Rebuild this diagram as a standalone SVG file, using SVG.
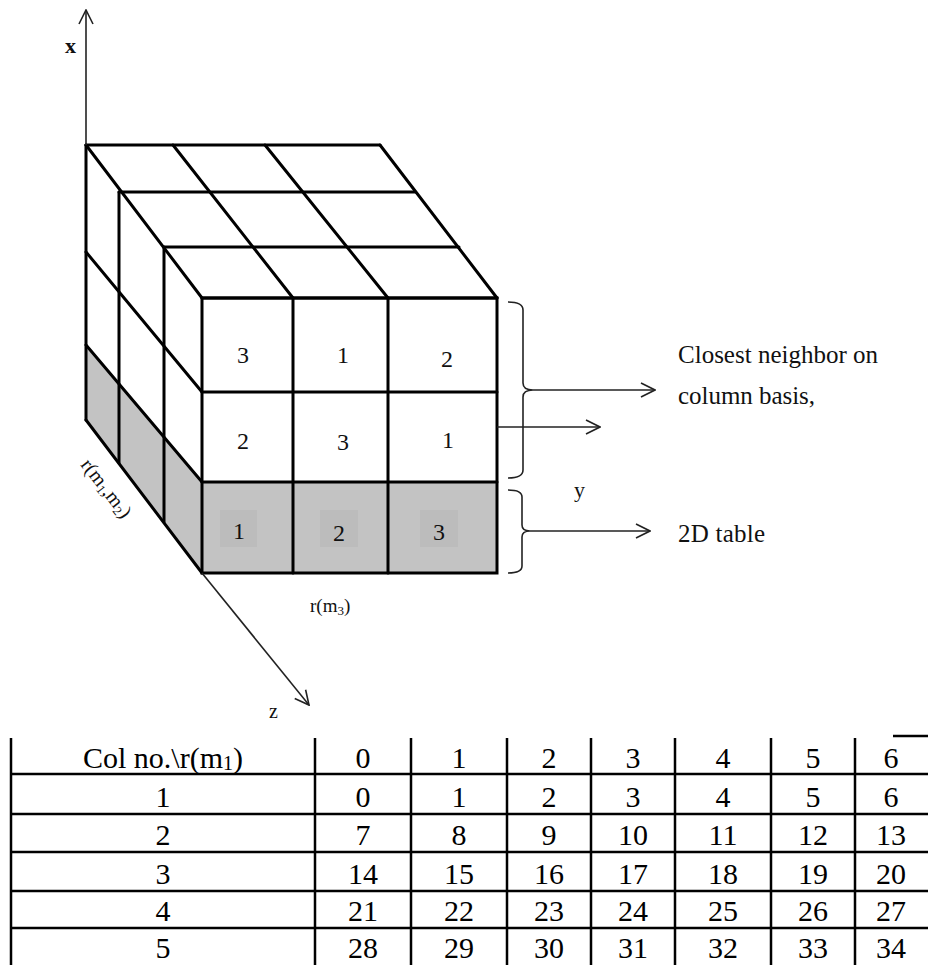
<svg xmlns="http://www.w3.org/2000/svg" width="928" height="965" viewBox="0 0 928 965">
<defs>
<marker id="arr" viewBox="0 0 16 16" markerWidth="16" markerHeight="16" refX="15" refY="8" orient="auto" markerUnits="userSpaceOnUse">
<path d="M1,1 L15,8 L1,15" fill="none" stroke="#222" stroke-width="1.6"/>
</marker>
<style>
.edge{stroke:#000;stroke-width:3;fill:none;stroke-linecap:round}
.thin{stroke:#222;stroke-width:1.6;fill:none}
.con{stroke:#222;stroke-width:1.6;fill:none;marker-end:url(#arr)}
.gray{fill:#c3c3c3}
.dk{fill:#bcbcbc}
.t{font-family:"Liberation Serif","Times New Roman",serif;fill:#111}
.d{font-size:24px;text-anchor:middle}
.lab{font-size:25px}
.tb{font-size:30px;text-anchor:middle;font-family:"Liberation Serif","Times New Roman",serif;fill:#000}
.tl{stroke:#000;stroke-width:2.5;fill:none}
</style>
</defs>
<rect width="928" height="965" fill="#fff"/>

<g id="cube">
<polygon class="gray" points="86,345 202,482 202,573 86,420"/>
<rect class="gray" x="202" y="482" width="295" height="91"/>
<rect class="dk" x="220" y="510" width="37" height="37"/>
<rect class="dk" x="320" y="510" width="38" height="37"/>
<rect class="dk" x="420" y="510" width="38" height="37"/>
<path class="edge" d="M86,145 H380 M119,192 H415 M164,247 H459 M202,298 H497"/>
<path class="edge" d="M86,145 L202,298 M173,145 L293,298 M265,145 L388,298 M380,145 L497,298"/>
<path class="edge" d="M86,145 V420 M119,192 V463 M164,247 V522"/>
<path class="edge" d="M86,252 L202,392 M86,345 L202,482 M86,420 L202,573"/>
<rect class="edge" x="202" y="298" width="295" height="275"/>
<path class="edge" d="M293,298 V573 M388,298 V573 M202,392 H497 M202,482 H497"/>
<g class="t d">
<text x="243" y="363">3</text><text x="343" y="363">1</text><text x="447" y="367">2</text>
<text x="243" y="449">2</text><text x="343" y="450">3</text><text x="448" y="448">1</text>
<text x="239" y="539">1</text><text x="339" y="541">2</text><text x="439" y="540">3</text>
</g>
</g>

<g id="connectors">
<line class="con" x1="86" y1="145" x2="86" y2="10"/>
<line class="con" x1="202" y1="573" x2="309" y2="705"/>
<path class="thin" d="M508,302 Q523,302 523,310 L523,383 Q523,390 533,390 Q523,390 523,397 L523,470 Q523,478 508,478"/>
<path class="thin" d="M508,490 Q522,490 522,497 L522,525 Q522,531 530,531 Q522,531 522,537 L522,566 Q522,573 508,573"/>
<line class="con" x1="533" y1="390" x2="655" y2="390"/>
<line class="con" x1="497" y1="427" x2="600" y2="427"/>
<line class="con" x1="530" y1="531" x2="650" y2="531"/>
</g>

<g id="labels" class="t">
<text x="65" y="53" font-size="22" font-weight="bold">x</text>
<text x="574" y="497" font-size="22">y</text>
<text x="269" y="718" font-size="20">z</text>
<text x="310" y="612" font-size="19">r(m<tspan font-size="13" dy="3">3</tspan><tspan dy="-3">)</tspan></text>
<text transform="translate(80,465) rotate(52)" font-size="20">r(m<tspan font-size="13" dy="3">1</tspan><tspan dy="-3">,m</tspan><tspan font-size="13" dy="3">2</tspan><tspan dy="-3">)</tspan></text>
<text class="lab" x="678" y="363" textLength="200">Closest neighbor on</text>
<text class="lab" x="678" y="404" textLength="137">column basis,</text>
<text class="lab" x="678" y="542" textLength="87">2D table</text>
</g>

<g id="table">
<path class="tl" d="M11,738 V965 M315,738 V965 M411,738 V965 M507,738 V965 M591,738 V965 M675,738 V965 M771,738 V965 M855,738 V965"/>
<path class="tl" stroke-width="3" d="M11,774 H928 M11,814 H928 M11,852 H928 M11,891 H928 M11,928 H928 M893,736 H928"/>
<text class="tb" x="163" y="768">Col no.\r(m<tspan font-size="20" dy="2">1</tspan><tspan dy="-2">)</tspan></text>
<g class="tb">
<text x="363" y="768">0</text><text x="459" y="768">1</text><text x="549" y="768">2</text><text x="633" y="768">3</text><text x="723" y="768">4</text><text x="813" y="768">5</text><text x="891" y="768">6</text>
<text x="163" y="807">1</text><text x="363" y="807">0</text><text x="459" y="807">1</text><text x="549" y="807">2</text><text x="633" y="807">3</text><text x="723" y="807">4</text><text x="813" y="807">5</text><text x="891" y="807">6</text>
<text x="163" y="845">2</text><text x="363" y="845">7</text><text x="459" y="845">8</text><text x="549" y="845">9</text><text x="633" y="845">10</text><text x="723" y="845">11</text><text x="813" y="845">12</text><text x="891" y="845">13</text>
<text x="163" y="884">3</text><text x="363" y="884">14</text><text x="459" y="884">15</text><text x="549" y="884">16</text><text x="633" y="884">17</text><text x="723" y="884">18</text><text x="813" y="884">19</text><text x="891" y="884">20</text>
<text x="163" y="921">4</text><text x="363" y="921">21</text><text x="459" y="921">22</text><text x="549" y="921">23</text><text x="633" y="921">24</text><text x="723" y="921">25</text><text x="813" y="921">26</text><text x="891" y="921">27</text>
<text x="163" y="958">5</text><text x="363" y="958">28</text><text x="459" y="958">29</text><text x="549" y="958">30</text><text x="633" y="958">31</text><text x="723" y="958">32</text><text x="813" y="958">33</text><text x="891" y="958">34</text>
</g>
</g>
</svg>
